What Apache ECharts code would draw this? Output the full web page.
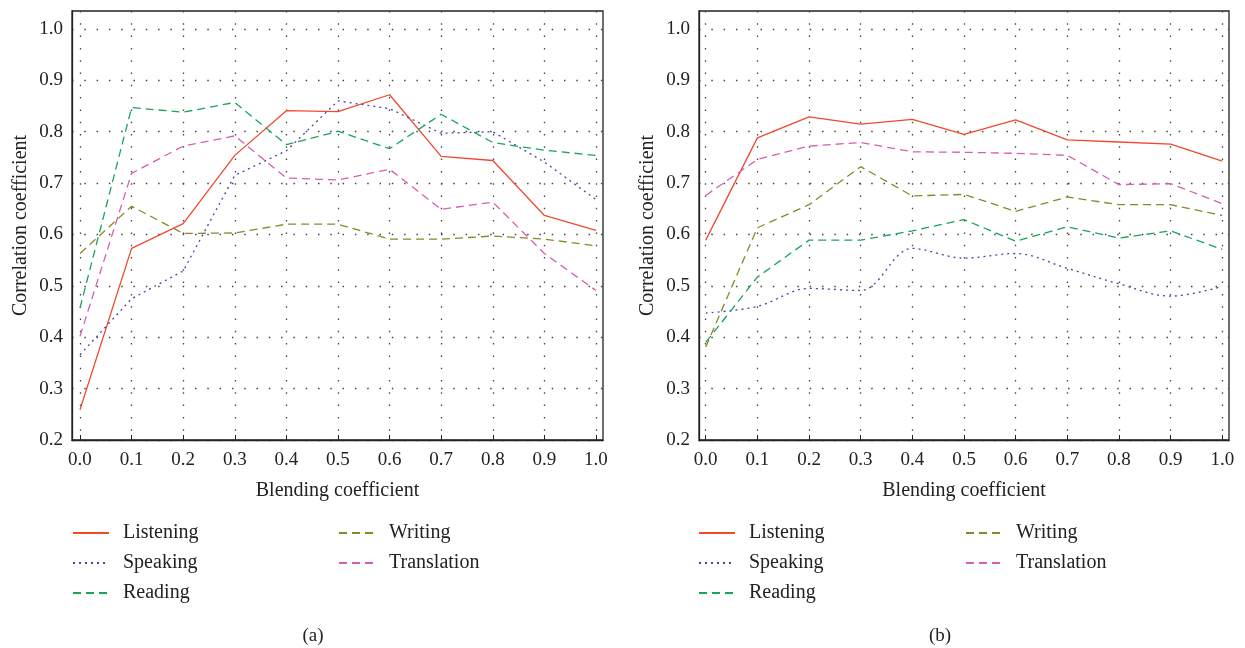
<!DOCTYPE html>
<html>
<head>
<meta charset="utf-8">
<script src="https://cdn.jsdelivr.net/npm/echarts@6/dist/echarts.min.js"></script>
<style>
html, body { margin: 0; padding: 0; background: #fff; }
#container { width: 1245px; height: 648px; }
</style>
</head>
<body>
<div id="container"></div>
<script>
// blending coefficient (x) and tick labels
var blendValues = [0.0, 0.1, 0.2, 0.3, 0.4, 0.5, 0.6, 0.7, 0.8, 0.9, 1.0];
var corrTicks = [0.2, 0.3, 0.4, 0.5, 0.6, 0.7, 0.8, 0.9, 1.0];

// panel (a)
var listeningA = [0.259, 0.573, 0.621, 0.754, 0.841, 0.839, 0.872, 0.752, 0.744, 0.637, 0.608];
var speakingA = [0.366, 0.475, 0.529, 0.715, 0.763, 0.860, 0.845, 0.797, 0.800, 0.741, 0.668];
var readingA = [0.457, 0.847, 0.838, 0.857, 0.775, 0.801, 0.767, 0.834, 0.779, 0.764, 0.754];
var writingA = [0.563, 0.655, 0.602, 0.603, 0.620, 0.620, 0.591, 0.591, 0.597, 0.591, 0.578];
var translationA = [0.402, 0.719, 0.772, 0.792, 0.710, 0.706, 0.727, 0.649, 0.663, 0.563, 0.491];

// panel (b)
var listeningB = [0.589, 0.788, 0.829, 0.815, 0.824, 0.795, 0.823, 0.784, 0.780, 0.776, 0.743];
var speakingB = [0.447, 0.460, 0.495, 0.491, 0.573, 0.554, 0.563, 0.534, 0.504, 0.480, 0.499];
var readingB = [0.390, 0.517, 0.589, 0.589, 0.607, 0.629, 0.587, 0.615, 0.593, 0.607, 0.571];
var writingB = [0.381, 0.613, 0.658, 0.732, 0.675, 0.678, 0.645, 0.673, 0.658, 0.658, 0.637];
var translationB = [0.676, 0.746, 0.772, 0.779, 0.761, 0.760, 0.758, 0.754, 0.697, 0.699, 0.660];

var FONT = 'Liberation Serif';
var styles = {
    Listening: { color: '#ef4a2e', type: 'solid' },
    Speaking: { color: '#4b43a6', type: [2, 4] },
    Reading: { color: '#1ba35a', type: [8, 5] },
    Writing: { color: '#8a8826', type: [8, 5] },
    Translation: { color: '#d55fb5', type: [8, 5] }
};

function pairs(vals) {
    var out = [];
    for (var i = 0; i < vals.length; i++) {
        out.push([blendValues[i], vals[i]]);
    }
    return out;
}

function makeSeries(name, vals, idx, smooth) {
    return {
        name: name,
        type: 'line',
        xAxisIndex: idx,
        yAxisIndex: idx,
        data: pairs(vals),
        symbol: 'none',
        smooth: smooth || false,
        silent: true,
        lineStyle: { color: styles[name].color, type: styles[name].type, width: 1.3 },
        itemStyle: { color: styles[name].color }
    };
}

var gridLine = { show: true, lineStyle: { color: '#444', width: 1.3, type: [1.5, 10.8] } };

function xAxisFor(idx, mn, mx) {
    return {
        type: 'value',
        gridIndex: idx,
        min: mn,
        max: mx,
        name: 'Blending coefficient',
        nameLocation: 'middle',
        nameGap: 41,
        nameTextStyle: { fontFamily: FONT, fontSize: 20, color: '#222' },
        axisLine: { show: true, onZero: false, lineStyle: { color: '#222', width: 1.3 } },
        axisTick: { show: true, inside: true, length: 5, customValues: blendValues, lineStyle: { color: '#222' } },
        axisLabel: {
            customValues: blendValues,
            margin: 11,
            fontFamily: FONT, fontSize: 19, color: '#222',
            formatter: function (v) { return v.toFixed(1); }
        },
        splitLine: gridLine
    };
}

function yAxisFor(idx) {
    return {
        type: 'value',
        gridIndex: idx,
        min: 0.2,
        max: 1.035,
        name: 'Correlation coefficient',
        nameLocation: 'middle',
        nameGap: 41,
        nameTextStyle: { fontFamily: FONT, fontSize: 20, color: '#222' },
        axisLine: { show: true, onZero: false, lineStyle: { color: '#222', width: 1.3 } },
        axisTick: { show: false, customValues: corrTicks },
        axisLabel: {
            customValues: corrTicks,
            margin: 9,
            fontFamily: FONT, fontSize: 19, color: '#222',
            formatter: function (v) { return v.toFixed(1); }
        },
        splitLine: gridLine
    };
}

function legendAt(names, left) {
    return {
        data: names,
        orient: 'vertical',
        left: left,
        top: 523,
        padding: 0,
        itemWidth: 36,
        itemHeight: 14,
        itemGap: 10,
        selectedMode: false,
        itemStyle: { color: 'transparent', borderWidth: 0, opacity: 0 },
        textStyle: { fontFamily: FONT, fontSize: 20, color: '#222', lineHeight: 20, padding: [0, 0, 0, 9] }
    };
}

var dom = document.getElementById('container');
var myChart = echarts.init(dom, null, { renderer: 'canvas' });

var option = {
    animation: false,
    backgroundColor: '#fff',
    title: [
        { text: '(a)', left: 308, top: 622, textAlign: 'center', textStyle: { fontFamily: FONT, fontSize: 19, fontWeight: 'normal', color: '#222' } },
        { text: '(b)', left: 935, top: 622, textAlign: 'center', textStyle: { fontFamily: FONT, fontSize: 19, fontWeight: 'normal', color: '#222' } }
    ],
    legend: [
        legendAt(['Listening', 'Speaking', 'Reading'], 72),
        legendAt(['Writing', 'Translation'], 338),
        legendAt(['Listening', 'Speaking', 'Reading'], 698),
        legendAt(['Writing', 'Translation'], 965)
    ],
    grid: [
        { left: 72, right: 642, top: 11, bottom: 208, show: true, borderColor: '#222', borderWidth: 1.3, containLabel: false },
        { left: 699, right: 16, top: 11, bottom: 208, show: true, borderColor: '#222', borderWidth: 1.3, containLabel: false }
    ],
    xAxis: [xAxisFor(0, -0.0155, 1.0136), xAxisFor(1, -0.013, 1.013)],
    yAxis: [yAxisFor(0), yAxisFor(1)],
    series: [
        makeSeries('Listening', listeningA, 0),
        makeSeries('Speaking', speakingA, 0),
        makeSeries('Reading', readingA, 0),
        makeSeries('Writing', writingA, 0),
        makeSeries('Translation', translationA, 0),
        makeSeries('Listening', listeningB, 1),
        makeSeries('Speaking', speakingB, 1, 0.35),
        makeSeries('Reading', readingB, 1),
        makeSeries('Writing', writingB, 1),
        makeSeries('Translation', translationB, 1)
    ]
};

if (option && typeof option === 'object') {
    myChart.setOption(option, true);
}
</script>
</body>
</html>
